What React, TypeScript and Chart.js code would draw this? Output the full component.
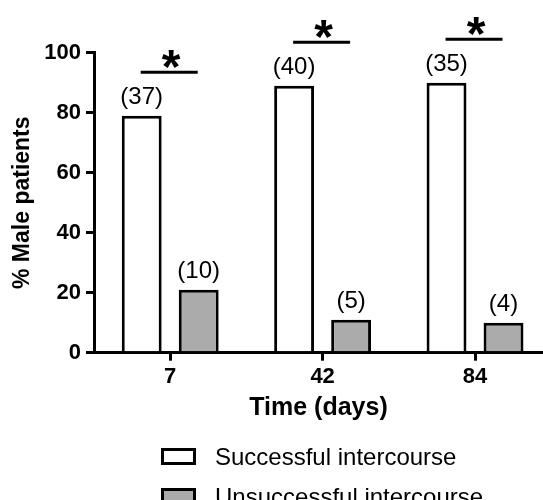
import React, { useEffect, useRef } from "react";
import { Chart, registerables } from "chart.js";

Chart.register(...registerables);

const categories = ["7", "42", "84"];
const successful = [79, 89, 90];
const unsuccessful = [21, 11, 10];
const successfulN = ["(37)", "(40)", "(35)"];
const unsuccessfulN = ["(10)", "(5)", "(4)"];
const sigLevel = [93.5, 103.5, 104.5];
const sigMark = ["*", "*", "*"];
const seriesNames = ["Successful intercourse", "Unsuccessful intercourse"];
const yTicks = [0, 20, 40, 60, 80, 100];

const FONT = "'Liberation Sans', Arial, sans-serif";
const GRAY = "#ababab";

const annotationPlugin = {
  id: "annotations",
  afterDraw(chart: any) {
    const ctx = chart.ctx;
    const y = chart.scales.y;
    const m0 = chart.getDatasetMeta(0);
    const m1 = chart.getDatasetMeta(1);
    ctx.save();
    ctx.fillStyle = "#000";
    ctx.strokeStyle = "#000";
    // counts above bars
    ctx.font = `24px ${FONT}`;
    ctx.textAlign = "center";
    ctx.textBaseline = "alphabetic";
    m0.data.forEach((bar: any, i: number) => {
      ctx.fillText(successfulN[i], bar.x, bar.y - 11.5);
    });
    m1.data.forEach((bar: any, i: number) => {
      ctx.fillText(unsuccessfulN[i], bar.x, bar.y - 11.5);
    });
    // significance lines
    ctx.lineWidth = 3;
    ctx.font = `bold 48px ${FONT}`;
    sigLevel.forEach((lv, i) => {
      const py = y.getPixelForValue(lv);
      const x0 = m0.data[i].x - 1;
      const x1 = m1.data[i].x - 1;
      ctx.beginPath();
      ctx.moveTo(x0, py);
      ctx.lineTo(x1, py);
      ctx.stroke();
      ctx.fillText(sigMark[i], (x0 + x1) / 2 + 2, py + 11);
    });
    // legend
    const items = chart.data.datasets;
    ctx.font = `24px ${FONT}`;
    ctx.textAlign = "left";
    items.forEach((ds: any, i: number) => {
      const top = 448 + i * 40;
      ctx.fillStyle = ds.backgroundColor;
      ctx.fillRect(162.5, top + 1.5, 32, 14);
      ctx.lineWidth = 3;
      ctx.strokeStyle = "#000";
      ctx.strokeRect(162.5, top + 1.5, 32, 14);
      ctx.fillStyle = "#000";
      ctx.fillText(ds.label, 215, top + 17);
    });
    ctx.restore();
  },
};

export default function App() {
  const ref = useRef<HTMLCanvasElement>(null);
  useEffect(() => {
    if (!ref.current) return;
    const chart = new Chart(ref.current, {
      type: "bar",
      data: {
        datasets: [
          {
            label: seriesNames[0],
            data: successful.map((v, i) => ({ x: i, y: v })),
            backgroundColor: "#ffffff",
            borderColor: "#000",
            borderWidth: 3,
          },
          {
            label: seriesNames[1],
            data: unsuccessful.map((v, i) => ({ x: i, y: v })),
            backgroundColor: GRAY,
            borderColor: "#000",
            borderWidth: 3,
          },
        ],
      },
      options: {
        responsive: false,
        animation: false,
        devicePixelRatio: 1,
        categoryPercentage: 0.748,
        barPercentage: 0.7,
        layout: { padding: { top: 52.7, right: 0, bottom: 0, left: 0 } },
        plugins: { legend: { display: false }, tooltip: { enabled: false } },
        scales: {
          x: {
            type: "linear",
            min: -0.5,
            max: 2.446,
            offset: false,
            afterBuildTicks: (s: any) => {
              s.ticks = categories.map((_, i) => ({ value: i }));
            },
            afterFit: (s: any) => {
              s.height = 147.3;
            },
            ticks: {
              callback: (v: any) => categories[v],
              font: { family: FONT, size: 22, weight: "bold" },
              color: "#000",
              padding: 3,
              maxRotation: 0,
              autoSkip: false,
            },
            grid: {
              offset: false,
              drawOnChartArea: false,
              drawTicks: true,
              tickLength: 8,
              lineWidth: 3,
              color: "#000",
            },
            border: { color: "#000", width: 3 },
            title: {
              display: true,
              text: "Time (days)",
              font: { family: FONT, size: 25, weight: "bold" },
              color: "#000",
              padding: { top: 0, bottom: 77 },
            },
          },
          y: {
            min: 0,
            max: 100,
            afterBuildTicks: (s: any) => {
              s.ticks = yTicks.map((v) => ({ value: v }));
            },
            afterFit: (s: any) => {
              s.width = 94;
            },
            ticks: {
              font: { family: FONT, size: 22, weight: "bold" },
              color: "#000",
              padding: 5,
            },
            grid: {
              drawOnChartArea: false,
              drawTicks: true,
              tickLength: 8,
              lineWidth: 3,
              color: "#000",
            },
            border: { color: "#000", width: 3 },
            title: {
              display: true,
              text: "% Male patients",
              font: { family: FONT, size: 23, weight: "bold" },
              color: "#000",
              padding: { top: 9, bottom: 0 },
            },
          },
        },
      },
      plugins: [annotationPlugin],
    } as any);
    return () => chart.destroy();
  }, []);
  return (
    <div style={{ position: "fixed", left: 0, top: 0, width: 543, height: 500, background: "#fff" }}>
      <canvas ref={ref} width={543} height={500} style={{ width: 543, height: 500, display: "block" }} />
    </div>
  );
}
